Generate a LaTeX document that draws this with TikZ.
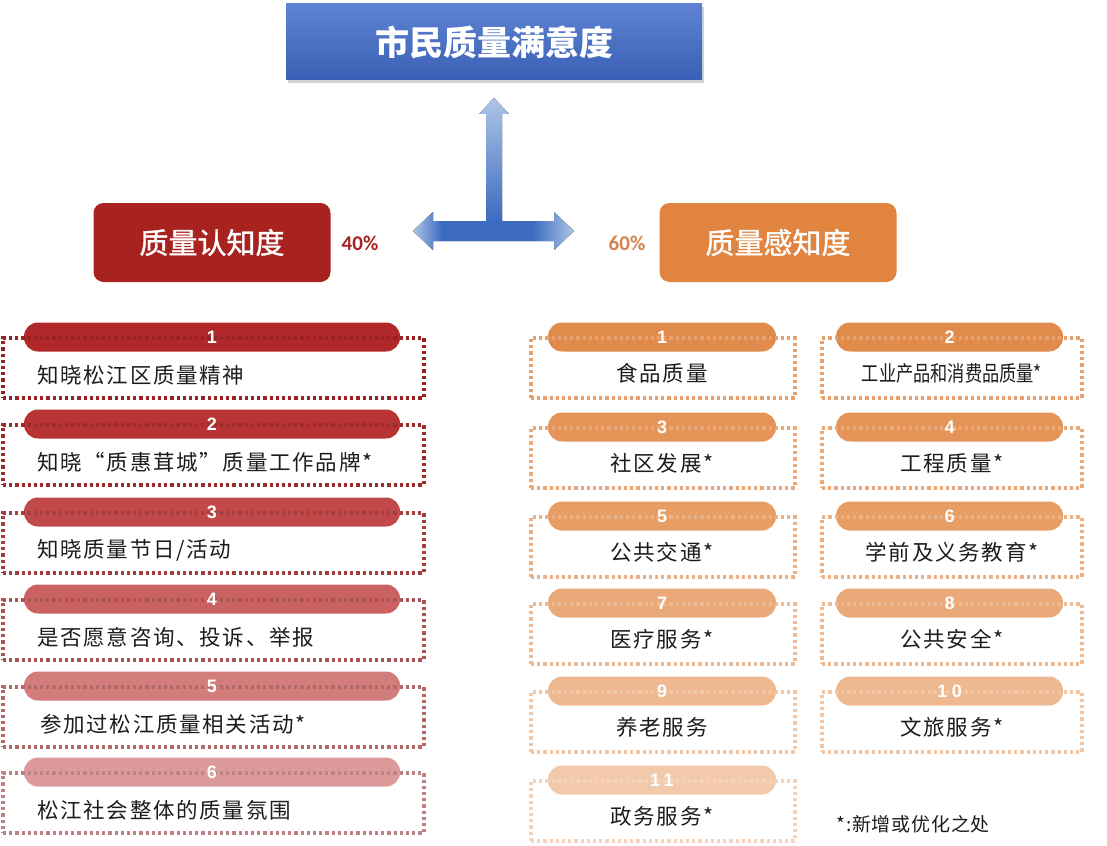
\documentclass[tikz,border=0pt]{standalone}
\usepackage{fontspec}
\setmainfont{Noto Sans CJK SC}
\newfontfamily\numfont{Liberation Sans}
\newfontfamily\pctfont{Carlito}
\usepackage{tikz}
\usetikzlibrary{arrows,shadows}

\definecolor{tblueA}{HTML}{5E83D2}
\definecolor{tblueB}{HTML}{3A60B5}
\definecolor{arrlight}{HTML}{AEC5E6}
\definecolor{arrdark}{HTML}{3D6BC0}
\definecolor{hred}{HTML}{A8231F}
\definecolor{horange}{HTML}{E0843F}
\definecolor{pctorange}{HTML}{D4834E}
\definecolor{txtgray}{HTML}{1C1C1C}
% left column shades
\definecolor{ra}{HTML}{B2282A}
\definecolor{rb}{HTML}{B83333}
\definecolor{rc}{HTML}{C14949}
\definecolor{rd}{HTML}{CA6262}
\definecolor{re}{HTML}{D37C7C}
\definecolor{rf}{HTML}{DC9A9A}
% right column shades
\definecolor{oa}{HTML}{E08A4B}
\definecolor{ob}{HTML}{E39456}
\definecolor{oc}{HTML}{E69E65}
\definecolor{od}{HTML}{EAA978}
\definecolor{oe}{HTML}{EEB990}
\definecolor{of}{HTML}{F2C9AB}

% light ends, dark middle for the two-headed arrow
\pgfdeclarehorizontalshading{arrowband}{100bp}{color(0bp)=(arrlight); color(25bp)=(arrlight);
	color(34bp)=(arrdark); color(62bp)=(arrdark); color(75bp)=(arrlight); color(100bp)=(arrlight)}

\begin{document}
\begin{tikzpicture}[x=1pt,y=-1pt,
	pill/.style={rectangle,rounded corners=14pt,minimum height=29pt,inner sep=0pt},
	dotbox/.style={rectangle,line width=3.2pt,dash pattern=on 3.2pt off 3pt,inner sep=0pt,minimum height=60pt},
	num/.style={text=white,font=\numfont\bfseries\fontsize{18}{18}\selectfont\addfontfeature{LetterSpace=25}},
	itemtxt/.style={text=txtgray,inner sep=0pt,font=\fontsize{21.5}{24}\selectfont\addfontfeature{LetterSpace=8}},
	header/.style={rectangle,rounded corners=10pt,minimum width=237pt,minimum height=79pt,text=white,
		font=\fontsize{29}{31}\selectfont\addfontfeature{FakeBold=1.2}}]
		\useasboundingbox (0,0) rectangle (1107,845);
%		\draw[help lines,step=50] (0,0) grid (1107,845);
		\path (494,42) coordinate (title);
		\path (212,242.5) coordinate (cogn);
		\path (778,242.5) coordinate (perc);
		\path (360,243) coordinate (cogn_pct);
		\path (627,243) coordinate (perc_pct);
		\path (494,98) coordinate (up_tip);
		\path (413,231) coordinate (left_tip);
		\path (574,231) coordinate (right_tip);

		\node (satisf) [rectangle,minimum width=416pt,minimum height=76pt,top color=tblueA,bottom color=tblueB,
			drop shadow={opacity=0.35,shadow xshift=2pt,shadow yshift=-3pt},text=white,
			font=\bfseries\fontsize{34}{36}\selectfont] at (title) {市民质量满意度};

		% arrows
		\fill[top color=arrlight,bottom color=arrdark] (up_tip) -- ++(15,16) -- ++(-7,0) -- ++(0,107)
			-- ++(-16,0) -- ++(0,-107) -- ++(-7,0) -- cycle;
		\fill[shading=arrowband] (left_tip) -- ++(20,-19) -- ++(0,9)
			-- ++(121,0) -- ++(0,-9) -- (right_tip) -- ++(-20,19) -- ++(0,-9) -- ++(-121,0) -- ++(0,9) -- cycle;

		\node (cogn_box) [header,fill=hred] at (cogn) {质量认知度};
		\node (perc_box) [header,fill=horange] at (perc) {质量感知度};
		\node (cogn_val) [text=hred,font=\pctfont\bfseries\fontsize{21}{21}\selectfont] at (cogn_pct) {40\%};
		\node (perc_val) [text=pctorange,font=\pctfont\bfseries\fontsize{21}{21}\selectfont] at (perc_pct) {60\%};

		% cognition items
		\node (l1p) [pill,minimum width=376pt,fill=ra] at (212,337) {};
		\node (l1b) [dotbox,minimum width=421pt,draw=ra!85!black] at (213.5,368) {};
		\node (l1n) [num] at (l1p) {1};
		\node (l1t) [itemtxt,anchor=west] at (37,375) {知晓松江区质量精神};

		\node (l2p) [pill,minimum width=376pt,fill=rb] at (212,424) {};
		\node (l2b) [dotbox,minimum width=421pt,draw=rb!85!black] at (213.5,455) {};
		\node (l2n) [num] at (l2p) {2};
		\node (l2t) [itemtxt,anchor=west] at (37,462) {知晓“质惠茸城”质量工作品牌*};

		\node (l3p) [pill,minimum width=376pt,fill=rc] at (212,512) {};
		\node (l3b) [dotbox,minimum width=421pt,draw=rc!85!black] at (213.5,543) {};
		\node (l3n) [num] at (l3p) {3};
		\node (l3t) [itemtxt,anchor=west] at (37,550) {知晓质量节日/活动};

		\node (l4p) [pill,minimum width=376pt,fill=rd] at (212,599) {};
		\node (l4b) [dotbox,minimum width=421pt,draw=rd!85!black] at (213.5,630) {};
		\node (l4n) [num] at (l4p) {4};
		\node (l4t) [itemtxt,anchor=west] at (37,637) {是否愿意咨询、投诉、举报};

		\node (l5p) [pill,minimum width=376pt,fill=re] at (212,686) {};
		\node (l5b) [dotbox,minimum width=421pt,draw=re!85!black] at (213.5,717) {};
		\node (l5n) [num] at (l5p) {5};
		\node (l5t) [itemtxt,anchor=west] at (40,724) {参加过松江质量相关活动*};

		\node (l6p) [pill,minimum width=376pt,fill=rf] at (212,772) {};
		\node (l6b) [dotbox,minimum width=421pt,draw=rf!85!black] at (213.5,803) {};
		\node (l6n) [num] at (l6p) {6};
		\node (l6t) [itemtxt,anchor=west] at (37,810) {松江社会整体的质量氛围};

		% perception items
		\node (r1p) [pill,minimum width=228pt,fill=oa] at (662,337) {};
		\node (r1b) [dotbox,minimum width=264pt,draw=oa!80!white] at (663,368) {};
		\node (r1n) [num] at (r1p) {1};
		\node (r1t) [itemtxt] at (662,373) {食品质量};

		\node (r2p) [pill,minimum width=227pt,fill=oa] at (949.5,337) {};
		\node (r2b) [dotbox,minimum width=260pt,draw=oa!80!white] at (952,368) {};
		\node (r2n) [num] at (r2p) {2};
		\node (r2t) [itemtxt] at (952,373) {\scalebox{0.8}[1]{\addfontfeature{LetterSpace=0}工业产品和消费品质量*}};

		\node (r3p) [pill,minimum width=228pt,fill=ob] at (662,427) {};
		\node (r3b) [dotbox,minimum width=264pt,draw=ob!80!white] at (663,458) {};
		\node (r3n) [num] at (r3p) {3};
		\node (r3t) [itemtxt] at (662,463) {社区发展*};

		\node (r4p) [pill,minimum width=227pt,fill=ob] at (949.5,427) {};
		\node (r4b) [dotbox,minimum width=260pt,draw=ob!80!white] at (952,458) {};
		\node (r4n) [num] at (r4p) {4};
		\node (r4t) [itemtxt] at (952,463) {工程质量*};

		\node (r5p) [pill,minimum width=228pt,fill=oc] at (662,516) {};
		\node (r5b) [dotbox,minimum width=264pt,draw=oc!80!white] at (663,547) {};
		\node (r5n) [num] at (r5p) {5};
		\node (r5t) [itemtxt] at (662,552) {公共交通*};

		\node (r6p) [pill,minimum width=227pt,fill=oc] at (949.5,516) {};
		\node (r6b) [dotbox,minimum width=260pt,draw=oc!80!white] at (952,547) {};
		\node (r6n) [num] at (r6p) {6};
		\node (r6t) [itemtxt] at (952,552) {学前及义务教育*};

		\node (r7p) [pill,minimum width=228pt,fill=od] at (662,603) {};
		\node (r7b) [dotbox,minimum width=264pt,draw=od!80!white] at (663,634) {};
		\node (r7n) [num] at (r7p) {7};
		\node (r7t) [itemtxt] at (662,639) {医疗服务*};

		\node (r8p) [pill,minimum width=227pt,fill=od] at (949.5,603) {};
		\node (r8b) [dotbox,minimum width=260pt,draw=od!80!white] at (952,634) {};
		\node (r8n) [num] at (r8p) {8};
		\node (r8t) [itemtxt] at (952,639) {公共安全*};

		\node (r9p) [pill,minimum width=228pt,fill=oe] at (662,691) {};
		\node (r9b) [dotbox,minimum width=264pt,draw=oe!80!white] at (663,722) {};
		\node (r9n) [num] at (r9p) {9};
		\node (r9t) [itemtxt] at (662,727) {养老服务};

		\node (r10p) [pill,minimum width=227pt,fill=oe] at (949.5,691) {};
		\node (r10b) [dotbox,minimum width=260pt,draw=oe!80!white] at (952,722) {};
		\node (r10n) [num] at (r10p) {10};
		\node (r10t) [itemtxt] at (952,727) {文旅服务*};

		\node (r11p) [pill,minimum width=228pt,fill=of] at (662,780) {};
		\node (r11b) [dotbox,minimum width=264pt,draw=of!80!white] at (663,811) {};
		\node (r11n) [num] at (r11p) {11};
		\node (r11t) [itemtxt] at (662,816) {政务服务*};

		\node (note) [anchor=west,text=txtgray,font=\fontsize{19}{22}\selectfont\addfontfeature{LetterSpace=4}] at (833,824) {*:新增或优化之处};
	\end{tikzpicture}
\end{document}
